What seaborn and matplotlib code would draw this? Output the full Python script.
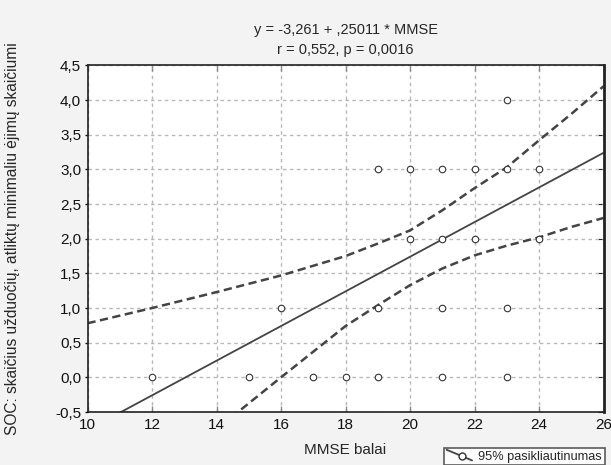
import matplotlib
matplotlib.use("Agg")
import matplotlib.pyplot as plt
import seaborn as sns
import pandas as pd
from matplotlib.lines import Line2D
from matplotlib.legend_handler import HandlerBase
from matplotlib.ticker import FuncFormatter, MultipleLocator

# Duomenys nuskaityti is paveikslo
mmse = [12, 15, 17, 18, 19, 21, 23,
        16, 19, 21, 23,
        20, 21, 22, 24,
        19, 20, 21, 22, 23, 24,
        23]
soc = [0, 0, 0, 0, 0, 0, 0,
       1, 1, 1, 1,
       2, 2, 2, 2,
       3, 3, 3, 3, 3, 3,
       4]

# Regresijos tiese (galai)
fit_x = [10, 26]
fit_y = [-0.76, 3.24]

# 95% pasikliautinumo juostos
upper_x = [10, 12, 14, 16, 18, 19, 20, 21, 22, 23, 24, 25, 26]
upper_y = [0.78, 1.0, 1.23, 1.47, 1.75, 1.93, 2.12, 2.41, 2.73, 3.03, 3.42, 3.8, 4.2]
lower_x = [10, 12, 14, 16, 18, 19, 20, 21, 22, 23, 24, 25, 26]
lower_y = [-2.3, -1.52, -0.75, 0.0, 0.74, 1.04, 1.33, 1.57, 1.76, 1.90, 2.02, 2.17, 2.30]

df = pd.DataFrame({"MMSE": mmse, "SOC": soc})

sns.set_style("ticks")
plt.rcParams["font.family"] = ["Liberation Sans", "DejaVu Sans"]

dark = "#444444"


# Legendos ikona: istrizaine linija su apskritimu
class DiagHandler(HandlerBase):
    def create_artists(self, legend, orig, xd, yd, width, height, fontsize, trans):
        ln = Line2D([xd, xd + width], [yd + height * 1.1, yd - height * 0.1],
                    color=dark, linewidth=1.3, transform=trans)
        mk = Line2D([xd + width * 0.62], [yd + height * 0.35], marker="o",
                    markersize=5, markerfacecolor="white",
                    markeredgecolor="#333333", transform=trans)
        return [ln, mk]


fig = plt.figure(figsize=(6.11, 4.65), dpi=100, facecolor="#f3f3f3")
ax = fig.add_axes([87.5 / 611, 1 - 412 / 465, 516 / 611, 346.5 / 465])
ax.set_facecolor("white")

ax.grid(True, color="#b8b8b8", linestyle=(0, (2.5, 2.5)), linewidth=1)
ax.set_axisbelow(True)

sns.lineplot(x=fit_x, y=fit_y, ax=ax, color=dark, linewidth=1.3, sort=False,
             estimator=None)
sns.lineplot(x=upper_x, y=upper_y, ax=ax, color=dark, linewidth=1.8,
             sort=False, estimator=None)
sns.lineplot(x=lower_x, y=lower_y, ax=ax, color=dark, linewidth=1.8,
             sort=False, estimator=None)
for ln in ax.lines[1:]:
    ln.set_dashes((3.3, 1.8))

sns.scatterplot(data=df, x="MMSE", y="SOC", ax=ax, marker="o", s=22,
                facecolor="white", edgecolor="#333333", linewidth=0.8,
                zorder=5, clip_on=False)

ax.set_xlim(10, 26)
ax.set_ylim(-0.5, 4.5)
ax.xaxis.set_major_locator(MultipleLocator(2))
ax.yaxis.set_major_locator(MultipleLocator(0.5))
ax.yaxis.set_major_formatter(FuncFormatter(lambda v, p: f"{v:.1f}".replace(".", ",")))
ax.xaxis.set_major_formatter(FuncFormatter(lambda v, p: f"{v:.0f}"))

for side in ["left", "right", "top", "bottom"]:
    ax.spines[side].set_visible(True)
    ax.spines[side].set_color("#222222")
    ax.spines[side].set_linewidth(1.2)
ax.spines["right"].set_linewidth(2)

ax.tick_params(axis="both", labelsize=11, colors="#111111", width=1)
ax.tick_params(axis="x", direction="in", top=True, length=4, pad=4,
               color="#888888")
ax.tick_params(axis="y", direction="out", right=False, length=2.5, pad=2)
ax2 = ax.secondary_yaxis("right")
ax2.yaxis.set_major_locator(MultipleLocator(0.5))
ax2.tick_params(direction="in", length=4, labelright=False, color="#222222")
ax2.spines["right"].set_visible(False)

ax.set_xlabel("MMSE balai", fontsize=11, labelpad=8)
ax.set_ylabel("SOC: skaičius užduočių, atliktų minimaliu ėjimų skaičiumi",
              fontsize=11.2)
ax.yaxis.set_label_coords((20 - 87.5) / 516, 0.5)
ax.set_title("y = -3,261 + ,25011 * MMSE\nr = 0,552, p = 0,0016",
             fontsize=10.5, pad=8, linespacing=1.6)

proxy = Line2D([], [])
leg = fig.legend(handles=[proxy], labels=["95% pasikliautinumas"],
                 handler_map={proxy: DiagHandler()},
                 loc="upper left", bbox_to_anchor=(444 / 611, 1 - 448 / 465),
                 fontsize=9.2, frameon=True, fancybox=False, borderpad=0.2,
                 borderaxespad=0, handlelength=2.0, handletextpad=0.5)
leg.get_frame().set_edgecolor("#333333")
leg.get_frame().set_linewidth(1.2)
leg.get_frame().set_facecolor("white")

fig.savefig("out.png", dpi=100, facecolor=fig.get_facecolor())
